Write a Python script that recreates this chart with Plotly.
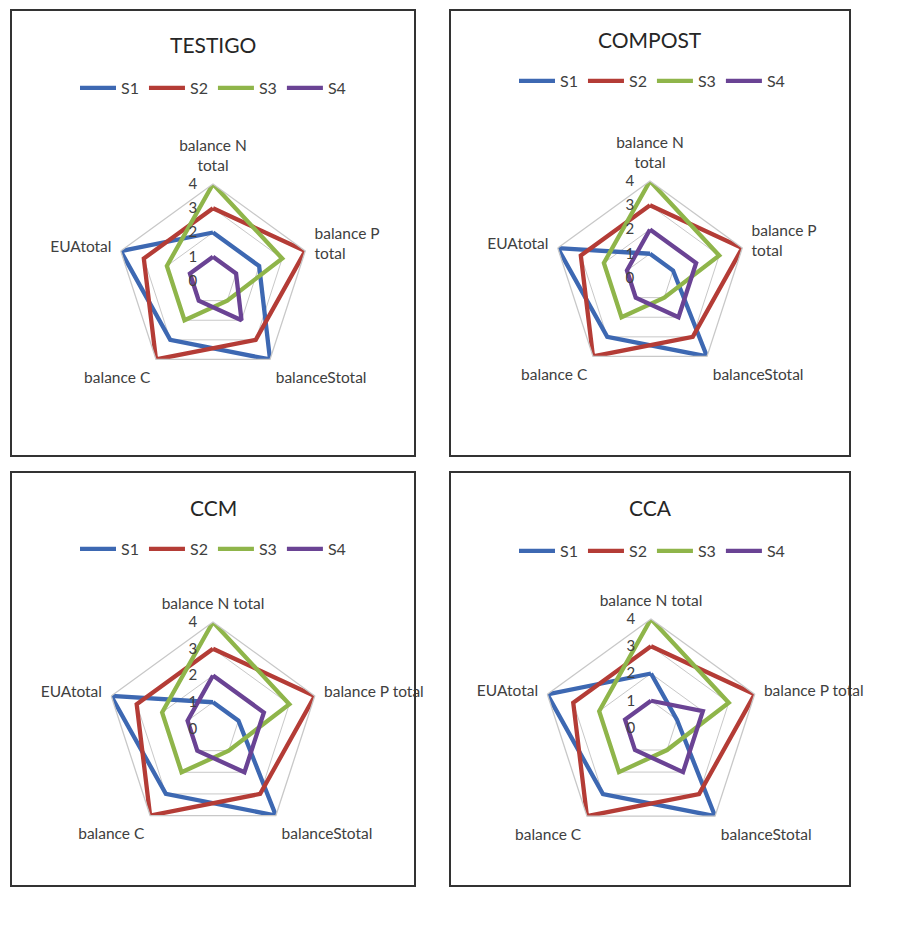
import plotly.graph_objects as go

# ---- data ----
series_names = ["S1", "S2", "S3", "S4"]
series_colors = ["#3D68B2", "#B43C36", "#8FB54A", "#6A4394"]

panel_titles = ["TESTIGO", "COMPOST", "CCM", "CCA"]

cats_two_line = ["balance N<br>total", "balance P<br>total", "balanceStotal", "balance C", "EUAtotal"]
cats_one_line = ["balance N total", "balance P total", "balanceStotal", "balance C", "EUAtotal"]

testigo_S1 = [2, 2, 4, 3, 4]
testigo_S2 = [3, 4, 3, 4, 3]
testigo_S3 = [4, 3, 1, 2, 2]
testigo_S4 = [1, 1, 2, 1, 1]

compost_S1 = [1, 1, 4, 3, 4]
compost_S2 = [3, 4, 3, 4, 3]
compost_S3 = [4, 3, 1, 2, 2]
compost_S4 = [2, 2, 2, 1, 1]

ccm_S1 = [1, 1, 4, 3, 4]
ccm_S2 = [3, 4, 3, 4, 3]
ccm_S3 = [4, 3, 1, 2, 2]
ccm_S4 = [2, 2, 2, 1, 1]

cca_S1 = [2, 1, 4, 3, 4]
cca_S2 = [3, 4, 3, 4, 3]
cca_S3 = [4, 3, 1, 2, 2]
cca_S4 = [1, 2, 2, 1, 1]

radial_ticks = [0, 1, 2, 3, 4]
radial_tick_labels = ["0", "1", "2", "3", "4"]

panel_data = [
    [testigo_S1, testigo_S2, testigo_S3, testigo_S4],
    [compost_S1, compost_S2, compost_S3, compost_S4],
    [ccm_S1, ccm_S2, ccm_S3, ccm_S4],
    [cca_S1, cca_S2, cca_S3, cca_S4],
]
panel_cats = [cats_two_line, cats_two_line, cats_one_line, cats_one_line]

# ---- layout geometry (page pixels) ----
W, H = 900, 926
OFF = 8  # page body margin
centers = [(213, 281, 97), (650, 278, 97), (213, 729, 107), (651, 728, 109)]
boxes = [(11, 10, 415, 456), (450, 10, 850, 456), (11, 472, 415, 886), (450, 472, 850, 886)]
title_pos = [(213, 44), (650, 40), (213, 507), (650, 507)]
legend_pos = [(213, 88), (652, 81), (213, 549), (652, 551)]


def px(x):
    return (x - OFF) / W


def py(y):
    return 1 - (y - OFF) / H


FONT = "Lato"
TXT = "#404040"

fig = go.Figure()
layout = dict(width=W, height=H, margin=dict(l=0, r=0, t=0, b=0),
              paper_bgcolor="white", plot_bgcolor="white",
              font=dict(family=FONT, color=TXT), shapes=[], annotations=[])

for p in range(4):
    pname = "polar" if p == 0 else f"polar{p+1}"
    lname = "legend" if p == 0 else f"legend{p+1}"
    cats = panel_cats[p]
    for s in range(4):
        vals = panel_data[p][s]
        fig.add_trace(go.Scatterpolar(
            r=vals + [vals[0]], theta=cats + [cats[0]],
            mode="lines", name=series_names[s],
            line=dict(color=series_colors[s], width=4.3),
            subplot=pname, legend=lname, hoverinfo="skip",
        ))
    cx, cy, R = centers[p]
    layout[pname] = dict(
        domain=dict(x=[px(cx - R), px(cx + R)], y=[py(cy + R), py(cy - R)]),
        gridshape="linear", bgcolor="white",
        angularaxis=dict(direction="clockwise", rotation=90, showgrid=False,
                         linecolor="#C8C8C8", linewidth=1.3,
                         ticks="outside", ticklen=6, tickcolor="rgba(0,0,0,0)",
                         tickfont=dict(family=FONT, size=15.5, color=TXT)),
        radialaxis=dict(range=[0, 4], tickvals=radial_ticks, ticktext=radial_tick_labels,
                        showline=False, gridcolor="#C8C8C8", gridwidth=1.3, angle=90,
                        tickangle=90, side="counterclockwise",
                        ticks="outside", ticklen=10, tickcolor="rgba(0,0,0,0)",
                        tickfont=dict(family=FONT, size=15, color=TXT)),
    )
    lx, ly = legend_pos[p]
    layout[lname] = dict(orientation="h", x=px(lx), y=py(ly), xanchor="center", yanchor="middle",
                         font=dict(family=FONT, size=16, color=TXT), bgcolor="rgba(0,0,0,0)",
                         itemwidth=36, tracegroupgap=0)
    x0, y0, x1, y1 = boxes[p]
    layout["shapes"].append(dict(type="rect", xref="paper", yref="paper",
                                 x0=px(x0), x1=px(x1), y0=py(y1), y1=py(y0),
                                 line=dict(color="#333333", width=2)))
    tx, ty = title_pos[p]
    layout["annotations"].append(dict(text=panel_titles[p], x=px(tx), y=py(ty), xref="paper", yref="paper",
                                      showarrow=False, xanchor="center", yanchor="middle",
                                      font=dict(family=FONT, size=21, color="#262626")))

fig.update_layout(**layout)
fig.write_html("out.html")
